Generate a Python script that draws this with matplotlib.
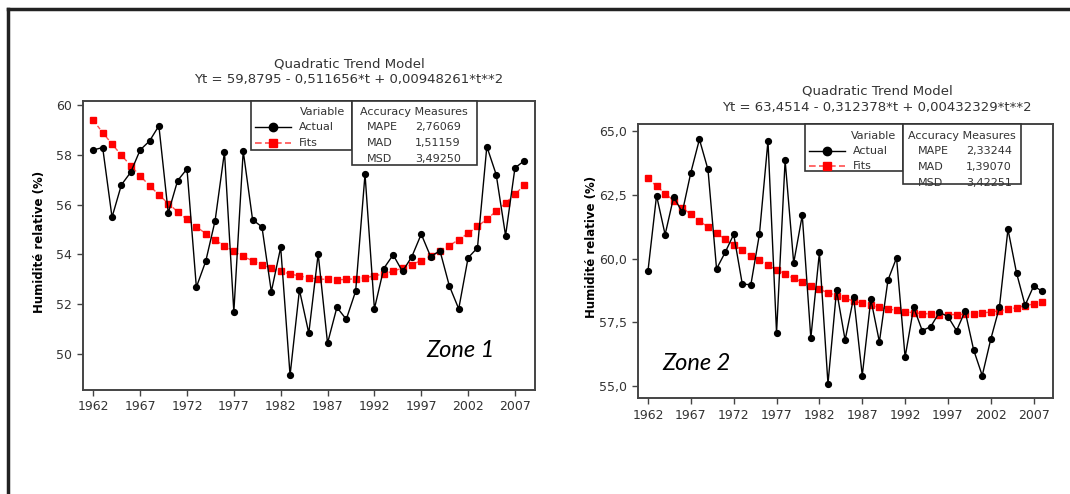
import matplotlib
matplotlib.use("Agg")
import matplotlib.pyplot as plt
from matplotlib.lines import Line2D
from matplotlib.patches import Rectangle

# ---- data ----
years = list(range(1962, 2009))

zone1_actual = [58.19, 58.29, 55.49, 56.79, 57.30, 58.19, 58.55, 59.16, 55.66, 56.96,
                57.43, 52.68, 53.72, 55.35, 58.11, 51.69, 58.15, 55.39, 55.10, 52.50,
                54.28, 49.14, 52.57, 50.83, 54.02, 50.43, 51.87, 51.39, 52.52, 57.22,
                51.81, 53.43, 53.98, 53.31, 53.91, 54.81, 53.91, 54.14, 52.73, 51.81,
                53.86, 54.26, 58.33, 57.20, 54.75, 57.47, 57.76]
zone1_fits = [59.38, 58.89, 58.43, 57.98, 57.56, 57.15, 56.76, 56.39, 56.04, 55.71,
              55.40, 55.11, 54.83, 54.57, 54.34, 54.12, 53.92, 53.74, 53.58, 53.44,
              53.32, 53.21, 53.13, 53.06, 53.01, 52.99, 52.98, 52.99, 53.02, 53.06,
              53.13, 53.22, 53.32, 53.45, 53.59, 53.75, 53.93, 54.13, 54.35, 54.59,
              54.84, 55.12, 55.41, 55.73, 56.06, 56.41, 56.78]

zone2_actual = [59.52, 62.47, 60.94, 62.42, 61.81, 63.37, 64.67, 63.49, 59.60, 60.24,
                60.95, 59.01, 58.97, 60.95, 64.61, 57.09, 63.85, 59.83, 61.70, 56.89,
                60.24, 55.10, 58.76, 56.81, 58.49, 55.42, 58.41, 56.74, 59.16, 60.03,
                56.14, 58.09, 57.18, 57.34, 57.90, 57.73, 57.18, 57.94, 56.42, 55.42,
                56.85, 58.09, 61.15, 59.44, 58.17, 58.93, 58.72]
zone2_fits = [63.14, 62.84, 62.55, 62.27, 62.00, 61.73, 61.48, 61.23, 60.99, 60.76,
              60.54, 60.33, 60.12, 59.93, 59.74, 59.56, 59.39, 59.23, 59.08, 58.93,
              58.80, 58.67, 58.55, 58.44, 58.34, 58.25, 58.17, 58.09, 58.03, 57.97,
              57.92, 57.88, 57.85, 57.83, 57.81, 57.81, 57.81, 57.82, 57.84, 57.87,
              57.91, 57.96, 58.01, 58.08, 58.15, 58.23, 58.32]

xticks = [1962, 1967, 1972, 1977, 1982, 1987, 1992, 1997, 2002, 2007]
zone1_yticks = [50, 52, 54, 56, 58, 60]
zone2_yticks = [55.0, 57.5, 60.0, 62.5, 65.0]

zone1_eq = "Yt = 59,8795 - 0,511656*t + 0,00948261*t**2"
zone2_eq = "Yt = 63,4514 - 0,312378*t + 0,00432329*t**2"
zone1_acc = [("MAPE", "2,76069"), ("MAD", "1,51159"), ("MSD", "3,49250")]
zone2_acc = [("MAPE", "2,33244"), ("MAD", "1,39070"), ("MSD", "3,42251")]

W, H = 1070, 494
plt.rcParams['font.family'] = ['DejaVu Sans']
fig = plt.figure(figsize=(W / 100, H / 100), dpi=100)
TXT = '#333333'
FIT_LINE = '#ff5050'


def fx(x):
    return x / W


def fy(y):
    return 1 - y / H


def make_axes(left, top, right, bottom):
    return fig.add_axes([fx(left), fy(bottom), (right - left) / W, (bottom - top) / H])


def style(ax):
    for s in ax.spines.values():
        s.set_color('#444444')
        s.set_linewidth(1.4)
    ax.tick_params(direction='out', length=4, width=1, color='#444444',
                   labelsize=9, labelcolor=TXT)
    ax.set_xticks(xticks)
    ax.set_xticklabels([str(v) for v in xticks])


def draw_series(ax, actual, fits):
    ax.plot(years, fits, color=FIT_LINE, lw=1, ls=(0, (3, 2)), zorder=2)
    ax.plot(years, fits, ls='none', marker='s', ms=4.6, color='#ff0000',
            mec='#ff0000', zorder=3)
    ax.plot(years, actual, color='black', lw=1, marker='o', ms=4.2, zorder=4)


def legend_boxes(vl, vr, vb, ar, ab, top, acc):
    # Variable box
    fig.add_artist(Rectangle((fx(vl), fy(vb)), (vr - vl) / W, (vb - top) / H,
                             transform=fig.transFigure, fc='white', ec='#333333', lw=1.2))
    fig.add_artist(Rectangle((fx(vr), fy(ab)), (ar - vr) / W, (ab - top) / H,
                             transform=fig.transFigure, fc='white', ec='#333333', lw=1.2))
    r1, r2, r3 = top + 11.5, top + 26.5, top + 42
    fig.text(fx(vr - 7), fy(r1), "Variable", ha='right', va='center', fontsize=8, color=TXT)
    fig.text(fx(vl + 48), fy(r2), "Actual", ha='left', va='center', fontsize=8, color=TXT)
    fig.text(fx(vl + 48), fy(r3), "Fits", ha='left', va='center', fontsize=8, color=TXT)
    fig.add_artist(Line2D([fx(vl + 4), fx(vl + 40)], [fy(r2), fy(r2)], color='black', lw=1,
                          transform=fig.transFigure))
    fig.add_artist(Line2D([fx(vl + 22)], [fy(r2)], color='black', marker='o', ms=6,
                          transform=fig.transFigure))
    fig.add_artist(Line2D([fx(vl + 4), fx(vl + 40)], [fy(r3), fy(r3)], color=FIT_LINE, lw=1.2,
                          ls=(0, (4, 2)), transform=fig.transFigure))
    fig.add_artist(Line2D([fx(vl + 22)], [fy(r3)], color='#ff0000', marker='s', ms=6,
                          transform=fig.transFigure))
    # Accuracy box
    fig.text(fx((vr + ar) / 2), fy(r1), "Accuracy Measures", ha='center', va='center',
             fontsize=8, color=TXT)
    for i, (k, v) in enumerate(acc):
        yy = top + 26.5 + 16 * i
        fig.text(fx(vr + 15), fy(yy), k, ha='left', va='center', fontsize=8, color=TXT)
        fig.text(fx(vr + 63), fy(yy), v, ha='left', va='center', fontsize=8, color=TXT)


# ---- Zone 1 ----
ax1 = make_axes(82.7, 100.7, 535, 390)
draw_series(ax1, zone1_actual, zone1_fits)
style(ax1)
ax1.set_xlim(1960.87, 2009.14)
ax1.set_ylim(48.55, 60.17)
ax1.set_yticks(zone1_yticks)
ax1.set_yticklabels([str(v) for v in zone1_yticks])
fig.text(fx(40), fy(242), "Humidité relative (%)", rotation=90, ha='center', va='center',
         fontsize=8.5, fontweight='bold', color='black')
fig.text(fx(349), fy(64), "Quadratic Trend Model", ha='center', va='center', fontsize=9.5, color=TXT)
fig.text(fx(349), fy(80), zone1_eq, ha='center', va='center', fontsize=9.5, color=TXT)
fig.text(fx(461), fy(350), "Zone 1", ha='center', va='center', fontsize=17,
         style='italic', family='Lato', color='black')
legend_boxes(251, 351.7, 150.3, 476.7, 165, 100.7, zone1_acc)

# ---- Zone 2 ----
ax2 = make_axes(637.7, 124.3, 1053.3, 398.3)
draw_series(ax2, zone2_actual, zone2_fits)
style(ax2)
ax2.set_xlim(1960.8, 2009.29)
ax2.set_ylim(54.53, 65.26)
ax2.set_yticks(zone2_yticks)
ax2.set_yticklabels([f"{v:.1f}".replace('.', ',') for v in zone2_yticks])
fig.text(fx(592), fy(247), "Humidité relative (%)", rotation=90, ha='center', va='center',
         fontsize=8.5, fontweight='bold', color='black')
fig.text(fx(877), fy(91), "Quadratic Trend Model", ha='center', va='center', fontsize=9.5, color=TXT)
fig.text(fx(877), fy(107), zone2_eq, ha='center', va='center', fontsize=9.5, color=TXT)
fig.text(fx(697), fy(363), "Zone 2", ha='center', va='center', fontsize=17,
         style='italic', family='Lato', color='black')
legend_boxes(805, 903.3, 171, 1021, 184, 124.3, zone2_acc)

# outer frame (top and left edges)
fig.add_artist(Line2D([fx(7.5), fx(1070)], [fy(8.7), fy(8.7)], color='#222222', lw=2.5,
                      transform=fig.transFigure))
fig.add_artist(Line2D([fx(7.5), fx(7.5)], [fy(8.7), fy(494)], color='#222222', lw=2.5,
                      transform=fig.transFigure))

fig.savefig("out.png", dpi=100)
